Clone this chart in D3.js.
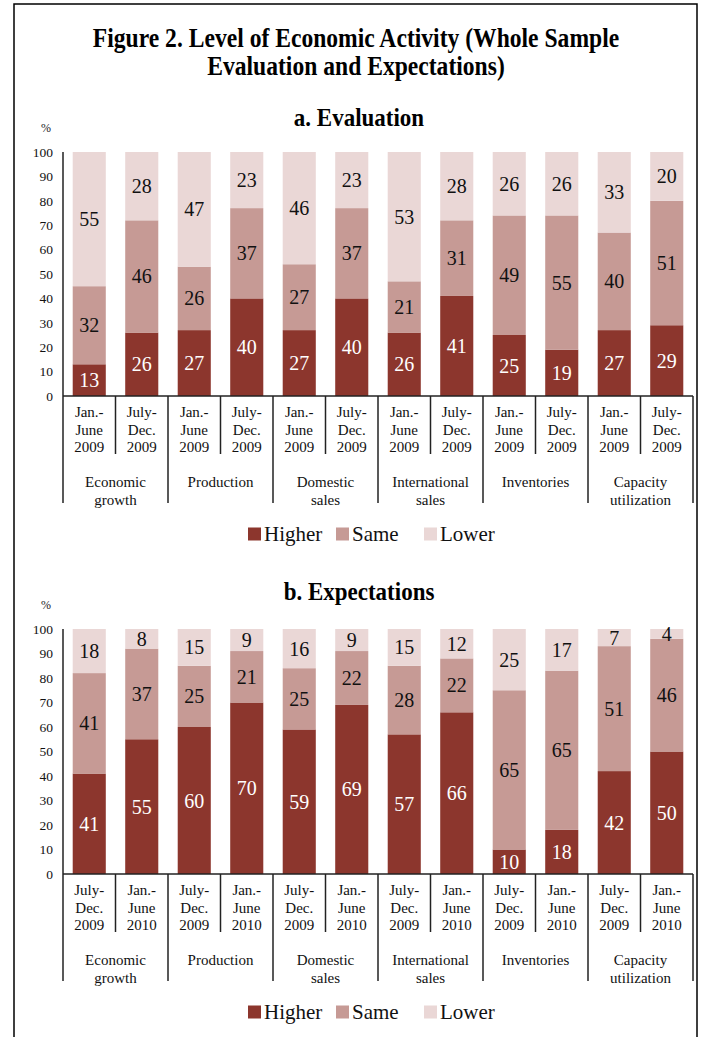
<!DOCTYPE html>
<html>
<head>
<meta charset="utf-8">
<script src="https://cdn.jsdelivr.net/npm/d3@7"></script>
<style>
  html, body { margin: 0; padding: 0; background: #fff; }
  svg { display: block; font-family: "Liberation Serif", "Times New Roman", serif; }
</style>
</head>
<body>
<div id="chart"></div>
<script>
// categories and periods
const categories = ["Economic growth", "Production", "Domestic sales", "International sales", "Inventories", "Capacity utilization"];
const categoryLines = [["Economic", "growth"], ["Production"], ["Domestic", "sales"], ["International", "sales"], ["Inventories"], ["Capacity", "utilization"]];
const periodsA = [["Jan.-", "June", "2009"], ["July-", "Dec.", "2009"]];
const periodsB = [["July-", "Dec.", "2009"], ["Jan.-", "June", "2010"]];

// a. Evaluation (two bars per category)
const evalHigher = [13, 26, 27, 40, 27, 40, 26, 41, 25, 19, 27, 29];
const evalSame   = [32, 46, 26, 37, 27, 37, 21, 31, 49, 55, 40, 51];
const evalLower  = [55, 28, 47, 23, 46, 23, 53, 28, 26, 26, 33, 20];

// b. Expectations
const expHigher = [41, 55, 60, 70, 59, 69, 57, 66, 10, 18, 42, 50];
const expSame   = [41, 37, 25, 21, 25, 22, 28, 22, 65, 65, 51, 46];
const expLower  = [18,  8, 15,  9, 16,  9, 15, 12, 25, 17,  7,  4];

const seriesNames = ["Higher", "Same", "Lower"];
const yTicks = [0, 10, 20, 30, 40, 50, 60, 70, 80, 90, 100];

const colors = { Higher: "#8c362d", Same: "#c69a95", Lower: "#ead7d6" };
const labelColors = { Higher: "#fff", Same: "#111", Lower: "#111" };

const W = 705, H = 1037;
const svg = d3.select("#chart").append("svg")
    .attr("width", W)
    .attr("height", H);

// outer frame (runs past the bottom of the page)
svg.append("path")
    .attr("d", `M14,${H + 5}V4H697V${H + 5}`)
    .attr("fill", "none")
    .attr("stroke", "#000")
    .attr("stroke-width", 1.5);

// headings are a bit taller than normal in the source, hence the y stretch
function heading(txt, cx, by, size) {
    svg.append("text")
        .attr("transform", `translate(${cx},${by}) scale(1,1.12)`)
        .attr("text-anchor", "middle")
        .attr("font-size", size).attr("font-weight", "bold")
        .attr("fill", "#000")
        .text(txt);
}
heading("Figure 2. Level of Economic Activity (Whole Sample", 356, 47, 23.6);
heading("Evaluation and Expectations)", 356, 75, 23.6);

function drawPanel(opts) {
    const { title, titleY, top, base, higher, same, lower, periods } = opts;
    const g = svg.append("g");

    const rows = higher.map((h, i) => ({ idx: i, Higher: h, Same: same[i], Lower: lower[i] }));
    const stacked = d3.stack().keys(seriesNames)(rows);

    const x = d3.scaleBand()
        .domain(d3.range(rows.length))
        .range([63, 693])
        .paddingInner(0.37)
        .paddingOuter(0.185);
    const y = d3.scaleLinear().domain([0, 100]).range([base, top]);

    heading(title, 359, titleY, 23);

    g.append("text")
        .attr("x", 46).attr("y", top - 20)
        .attr("text-anchor", "middle")
        .attr("font-size", 12).attr("fill", "#222")
        .text("%");

    // bars
    const layer = g.selectAll("g.layer").data(stacked).join("g")
        .attr("class", "layer")
        .attr("fill", d => colors[d.key]);
    layer.selectAll("rect").data(d => d).join("rect")
        .attr("x", (d, i) => x(i))
        .attr("y", d => y(d[1]))
        .attr("width", x.bandwidth())
        .attr("height", d => y(d[0]) - y(d[1]));

    // value labels
    stacked.forEach(s => {
        g.append("g").selectAll("text").data(s).join("text")
            .attr("x", (d, i) => x(i) + x.bandwidth() / 2)
            .attr("y", d => y((d[0] + d[1]) / 2))
            .attr("dy", "0.35em")
            .attr("text-anchor", "middle")
            .attr("font-size", 20)
            .attr("fill", labelColors[s.key])
            .text(d => d[1] - d[0]);
    });

    // y axis
    const yAxis = g.append("g")
        .attr("transform", "translate(63,0)")
        .call(d3.axisLeft(y).tickValues(yTicks).tickSize(0).tickPadding(10).tickSizeOuter(0));
    yAxis.select(".domain").remove();
    yAxis.selectAll("text")
        .attr("font-family", "Liberation Serif, serif")
        .attr("font-size", 13.5).attr("fill", "#111");
    g.append("line")
        .attr("x1", 63).attr("x2", 63)
        .attr("y1", top).attr("y2", base + 107)
        .attr("stroke", "#222").attr("stroke-width", 1.5);

    // x axis: baseline and multi-level separators
    g.append("line")
        .attr("x1", 63).attr("x2", 693)
        .attr("y1", base).attr("y2", base)
        .attr("stroke", "#222").attr("stroke-width", 1.5);
    const step = x.step();
    const bounds = d3.range(1, rows.length + 1);
    g.append("g").selectAll("line").data(bounds).join("line")
        .attr("x1", i => x(0) - x.paddingOuter() * step + i * step)
        .attr("x2", i => x(0) - x.paddingOuter() * step + i * step)
        .attr("y1", base)
        .attr("y2", i => base + (i % 2 === 0 ? 107 : 58))
        .attr("stroke", "#222").attr("stroke-width", 1.5);

    // period labels
    rows.forEach((r, i) => {
        const t = g.append("text")
            .attr("text-anchor", "middle")
            .attr("font-size", 15).attr("fill", "#111");
        periods[i % 2].forEach((line, k) => {
            t.append("tspan")
                .attr("x", x(i) + x.bandwidth() / 2)
                .attr("y", base + 21 + k * 17.5)
                .text(line);
        });
    });

    // category labels
    categoryLines.forEach((lines, c) => {
        const cx = x(c * 2) - x.paddingOuter() * step + step;
        const t = g.append("text")
            .attr("text-anchor", "middle")
            .attr("font-size", 15).attr("fill", "#111");
        lines.forEach((line, k) => {
            t.append("tspan")
                .attr("x", cx)
                .attr("y", base + 91 + k * 18)
                .text(line);
        });
    });

    // legend
    const lg = g.append("g").attr("transform", `translate(248,${base + 138})`);
    seriesNames.forEach((name, k) => {
        const item = lg.append("g").attr("transform", `translate(${k * 88},0)`);
        item.append("rect")
            .attr("x", 0).attr("y", -6.5)
            .attr("width", 13).attr("height", 13)
            .attr("fill", colors[name]);
        item.append("text")
            .attr("x", 16).attr("dy", "0.35em")
            .attr("font-size", 21).attr("fill", "#111")
            .text(name);
    });
}

drawPanel({ title: "a. Evaluation", titleY: 126, top: 152, base: 396,
    higher: evalHigher, same: evalSame, lower: evalLower, periods: periodsA });
drawPanel({ title: "b. Expectations", titleY: 600, top: 629, base: 874,
    higher: expHigher, same: expSame, lower: expLower, periods: periodsB });
</script>
</body>
</html>
